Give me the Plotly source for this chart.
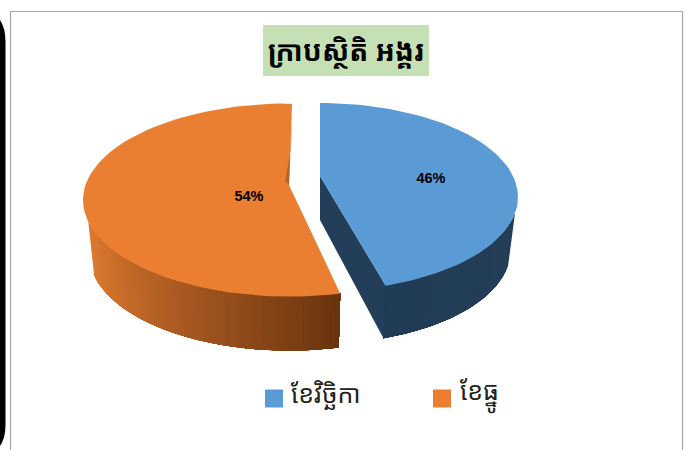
import math
import plotly.graph_objects as go

# ---- data ----
categories = ["ខែវិច្ឆិកា", "ខែធ្នូ"]
values = [46, 54]
title_text = "ក្រាបស្ថិតិ អង្គរ"
top_colors = ["#5B9BD5", "#ED7D31"]
face_colors = ["#5B9BD5", "#EA7E31"]
FONT = "Noto Sans Khmer, Khmer OS, Noto Sans, DejaVu Sans, sans-serif"

total = sum(values)
sweeps = [v / total * 360 for v in values]
W, H = 693, 450


def arc(cx, cy, a, b, t0, t1, n=80):
    pts = []
    for i in range(n + 1):
        t = math.radians(t0 + (t1 - t0) * i / n)
        pts.append((cx + a * math.sin(t), cy - b * math.cos(t)))
    return pts


def poly(fig, pts, color, width=0.0):
    xs = [p[0] for p in pts] + [pts[0][0]]
    ys = [p[1] for p in pts] + [pts[0][1]]
    fig.add_trace(go.Scatter(x=xs, y=ys, mode="lines", fill="toself", fillcolor=color,
                             line=dict(color=color, width=width), hoverinfo="skip", showlegend=False))


def mix(c1, c2, f):
    return "rgb(%d,%d,%d)" % tuple(round(c1[i] + (c2[i] - c1[i]) * f) for i in range(3))


fig = go.Figure()

# --- geometry of the two exploded slices, in pixels ---
B_TOP = dict(cx=320, cy=197, a=198, b=94)
B_BOT = dict(cx=320, cy=249.5, a=191, b=94)
B_APEX = (320, 176)
B_APEX_LOW = (320, 220)
blue_end = sweeps[0] - 5           # foreshortening of the exploded slice

O_TOP = dict(cx=289, cy=200, a=206, b=96.5)
O_BOT = dict(cx=289, cy=254, a=200, b=96.5)
O_APEX = (289, 185)
orange_start = sweeps[0]

# blue walls: each strip runs on to the wall's far end, so no seams show between strips
poly(fig, [B_APEX, arc(**B_TOP, t0=blue_end, t1=blue_end, n=1)[0],
           arc(**B_BOT, t0=blue_end, t1=blue_end, n=1)[0], B_APEX_LOW], "#233E58")
N = 20
start = 100
for i in range(N):
    t0 = start + (blue_end - start) * i / N
    col = mix((36, 62, 87), (33, 60, 86), i / N)
    poly(fig, arc(**B_TOP, t0=t0, t1=blue_end, n=40) + arc(**B_BOT, t0=blue_end, t1=t0, n=40), col)

# orange wall with its gradient
N = 70
end = 257
for i in range(N):
    t0 = end + (orange_start - end) * i / N
    col = mix((222, 122, 48), (104, 50, 14), (i / N) ** 1.1)
    poly(fig, arc(**O_TOP, t0=t0, t1=orange_start, n=40) + arc(**O_BOT, t0=orange_start, t1=t0, n=40), col)

# top faces
poly(fig, [B_APEX] + arc(**B_TOP, t0=0, t1=blue_end), face_colors[0])
poly(fig, [O_APEX] + arc(**O_TOP, t0=orange_start, t1=orange_start + sweeps[1]) + [(292, 104)], face_colors[1])
# inner orange wall, seen through the gap
poly(fig, [(292, 112), (291, 150), (285, 181), (289, 185)], "#B5652A")

# percentage labels
fig.add_trace(go.Scatter(
    x=[431, 249], y=[179, 197], mode="text",
    text=[f"{v / total:.0%}" for v in values],
    textfont=dict(family="Liberation Sans", size=14.5, color="black", weight="bold"),
    hoverinfo="skip", showlegend=False))

# legend
fig.add_trace(go.Scatter(x=[274, 442], y=[398.5, 398.5], mode="markers",
                         marker=dict(symbol="square", size=18, color=top_colors, line=dict(width=0)),
                         hoverinfo="skip", showlegend=False))
for x, name in zip([289, 458], categories):
    fig.add_annotation(x=x, y=393, text=name, showarrow=False, xanchor="left", yanchor="middle",
                       font=dict(family=FONT, size=25, color="#222222"))

# title
fig.add_annotation(x=346, y=50, text=f"<b>{title_text}</b>", showarrow=False,
                   font=dict(family=FONT, size=28, color="black"))

shapes = [
    dict(type="rect", x0=263, x1=429, y0=25, y1=76, fillcolor="#C5E0B4", line_width=0, layer="below"),
    # chart frame, open at the page bottom
    dict(type="path", path="M 10.5 450 L 10.5 11.5 L 682.5 11.5 L 682.5 450",
         line=dict(color="#A6A6A6", width=1.2), layer="below"),
    # rounded black panel edge on the far left
    dict(type="path", path="M 0 20 Q 5.5 28 5.5 42 L 5.5 425 Q 5.5 438 0 446 Z",
         fillcolor="black", line_width=0, layer="below"),
]

fig.update_layout(
    width=W, height=H, margin=dict(l=0, r=0, t=0, b=0),
    paper_bgcolor="white", plot_bgcolor="white", shapes=shapes,
    xaxis=dict(range=[0, W], visible=False, fixedrange=True),
    yaxis=dict(range=[H, 0], visible=False, fixedrange=True),
)
fig.write_html("out.html", config=dict(displayModeBar=False),
               post_script="document.body.style.margin='0';document.body.style.overflow='hidden';")
